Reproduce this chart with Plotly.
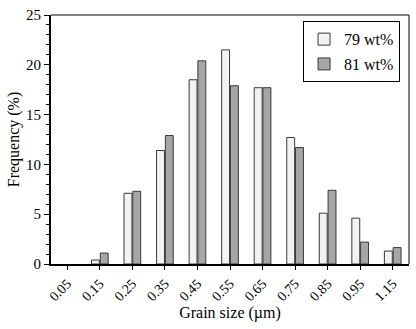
import plotly.graph_objects as go

categories = ["0.05", "0.15", "0.25", "0.35", "0.45", "0.55", "0.65", "0.75", "0.85", "0.95", "1.15"]
wt79 = [0, 0.4, 7.1, 11.4, 18.5, 21.5, 17.7, 12.7, 5.1, 4.6, 1.3]
wt81 = [0, 1.1, 7.3, 12.9, 20.4, 17.9, 17.7, 11.7, 7.4, 2.2, 1.65]

font = "Times New Roman, Liberation Serif, DejaVu Serif, serif"

def drawn(vals):
    # zero-height bars are not outlined in the original
    return [v if v > 0 else None for v in vals]

fig = go.Figure()
fig.add_trace(go.Bar(x=categories, y=drawn(wt79), name="79 wt%", legendgroup="a",
                     marker=dict(color="#f2f2f2", line=dict(color="#3a3a3a", width=1))))
fig.add_trace(go.Bar(x=categories, y=drawn(wt81), name="81 wt%", legendgroup="b",
                     marker=dict(color="#a6a6a6", line=dict(color="#3a3a3a", width=1))))

fig.update_layout(
    width=416, height=329,
    margin=dict(l=51, r=7, t=12, b=65),
    paper_bgcolor="white", plot_bgcolor="white",
    font=dict(family=font, size=14, color="black"),
    barmode="group", bargap=0.46, bargroupgap=0.1,
    legend=dict(x=0.975, y=0.975, xanchor="right", yanchor="top",
                bordercolor="black", borderwidth=1, bgcolor="white",
                font=dict(family=font, size=16), tracegroupgap=1,
                itemwidth=30),
    xaxis=dict(
        type="category", showline=True, linecolor="black", linewidth=2,
        ticks="outside", ticklen=4, tickcolor="black", tickangle=-45,
        tickfont=dict(family=font, size=14),
        title=dict(text="Grain size (µm)", font=dict(family=font, size=16), standoff=4),
        mirror=False, showgrid=False,
    ),
    yaxis=dict(
        range=[0, 25], tickvals=[0, 5, 10, 15, 20, 25],
        showline=True, linecolor="black", linewidth=2,
        ticks="outside", ticklen=5, tickcolor="black",
        minor=dict(dtick=1, ticks="outside", ticklen=3, tickcolor="black", showgrid=False),
        tickfont=dict(family=font, size=15),
        title=dict(text="Frequency (%)", font=dict(family=font, size=16), standoff=2),
        showgrid=False, zeroline=False,
    ),
    shapes=[
        dict(type="line", xref="paper", yref="paper", x0=0, x1=1, y0=1, y1=1,
             line=dict(color="black", width=1)),
        dict(type="line", xref="paper", yref="paper", x0=1, x1=1, y0=0, y1=1,
             line=dict(color="black", width=1)),
    ],
)

fig.write_html("out.html")
